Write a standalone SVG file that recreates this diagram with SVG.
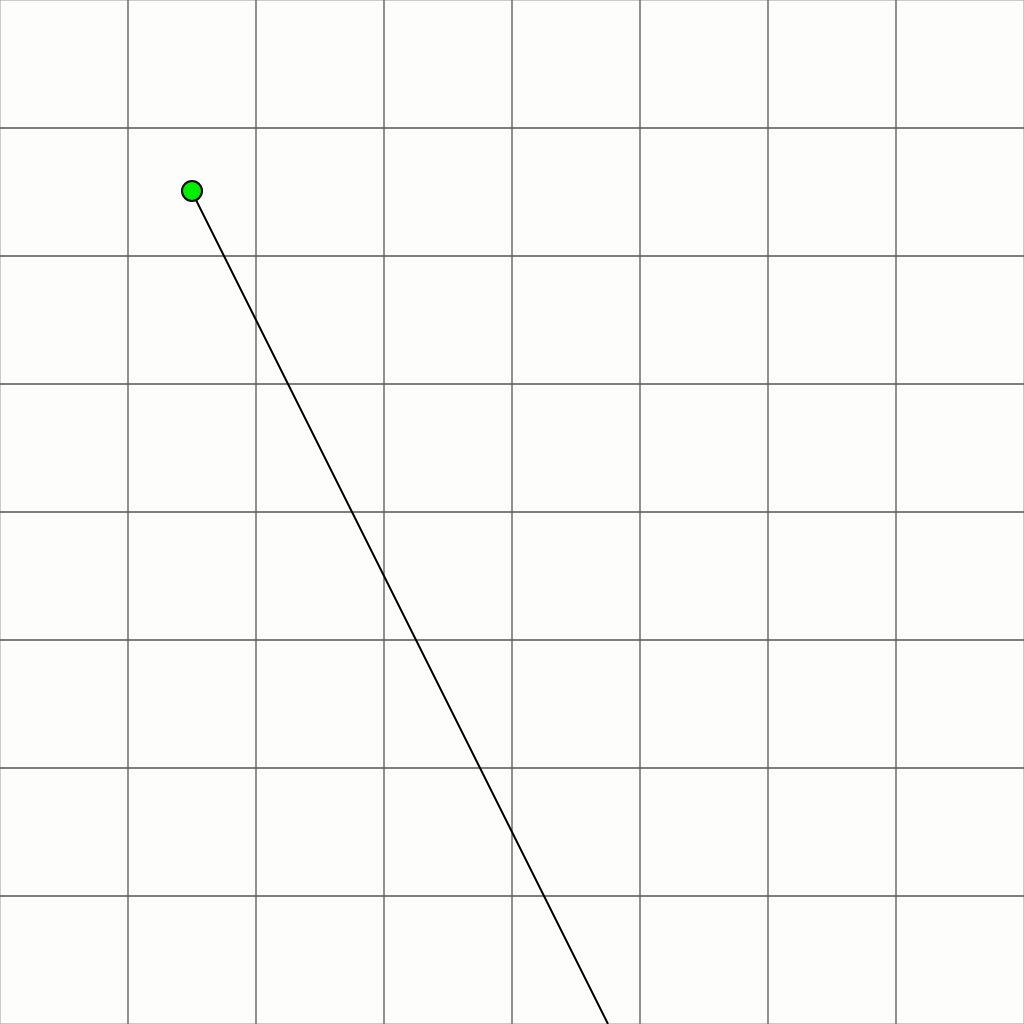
<svg xmlns="http://www.w3.org/2000/svg" width="1024" height="1024" viewBox="0 0 1024 1024">
<style>
.grid line{stroke:#555;stroke-width:1.3}
.conn{stroke:#000;stroke-width:2;fill:none}
.node{fill:#00ee00;stroke:#000;stroke-width:2}
</style>
<rect x="0" y="0" width="1024" height="1024" fill="#fdfefc" stroke="#999" stroke-width="1"/>
<g class="grid">
<line x1="128" y1="0" x2="128" y2="1024"/>
<line x1="256" y1="0" x2="256" y2="1024"/>
<line x1="384" y1="0" x2="384" y2="1024"/>
<line x1="512" y1="0" x2="512" y2="1024"/>
<line x1="640" y1="0" x2="640" y2="1024"/>
<line x1="768" y1="0" x2="768" y2="1024"/>
<line x1="896" y1="0" x2="896" y2="1024"/>
<line x1="0" y1="128" x2="1024" y2="128"/>
<line x1="0" y1="256" x2="1024" y2="256"/>
<line x1="0" y1="384" x2="1024" y2="384"/>
<line x1="0" y1="512" x2="1024" y2="512"/>
<line x1="0" y1="640" x2="1024" y2="640"/>
<line x1="0" y1="768" x2="1024" y2="768"/>
<line x1="0" y1="896" x2="1024" y2="896"/>
</g>
<g id="connectors">
<line class="conn" x1="192" y1="192" x2="608" y2="1024"/>
</g>
<g id="node1">
<circle class="node" cx="192" cy="191" r="10"/>
</g>
</svg>
